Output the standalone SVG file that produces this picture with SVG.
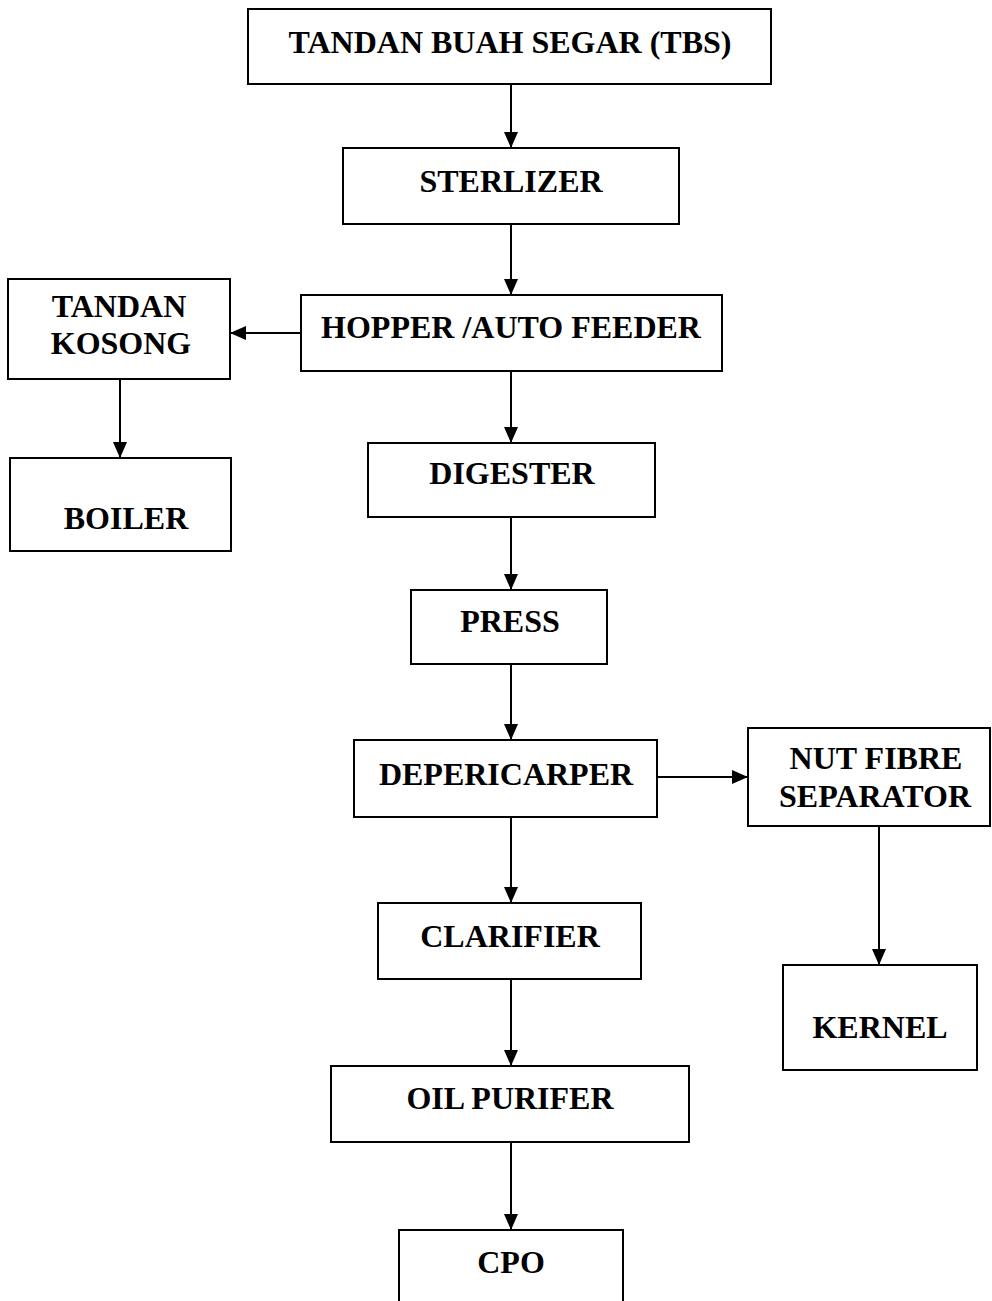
<svg xmlns="http://www.w3.org/2000/svg" width="992" height="1301" viewBox="0 0 992 1301">
<style>
.box{fill:#fff;stroke:#000;stroke-width:2}
.t{font-family:"Liberation Serif","Times New Roman",serif;font-weight:bold;font-size:32px;fill:#000;text-anchor:middle}
.c{stroke:#000;stroke-width:2;fill:none;marker-end:url(#ah)}
</style>
<defs>
<marker id="ah" viewBox="0 0 16 14" refX="16" refY="7" markerWidth="16" markerHeight="14" markerUnits="userSpaceOnUse" orient="auto">
<path d="M0,0 L16,7 L0,14 Z" fill="#000"/>
</marker>
</defs>
<rect width="992" height="1301" fill="#fff"/>
<g id="connectors">
<line class="c" x1="511" y1="84" x2="511" y2="148"/>
<line class="c" x1="511" y1="224" x2="511" y2="295"/>
<line class="c" x1="301" y1="333" x2="230" y2="333"/>
<line class="c" x1="120" y1="379" x2="120" y2="458"/>
<line class="c" x1="511" y1="371" x2="511" y2="443"/>
<line class="c" x1="511" y1="517" x2="511" y2="590"/>
<line class="c" x1="511" y1="664" x2="511" y2="740"/>
<line class="c" x1="657" y1="777" x2="748" y2="777"/>
<line class="c" x1="879" y1="826" x2="879" y2="965"/>
<line class="c" x1="511" y1="817" x2="511" y2="903"/>
<line class="c" x1="511" y1="979" x2="511" y2="1066"/>
<line class="c" x1="511" y1="1142" x2="511" y2="1230"/>
</g>
<g id="tbs"><rect class="box" x="248" y="9" width="523" height="75"/><text class="t" x="510" y="53">TANDAN BUAH SEGAR (TBS)</text></g>
<g id="sterlizer"><rect class="box" x="343" y="148" width="336" height="76"/><text class="t" x="511" y="192">STERLIZER</text></g>
<g id="hopper"><rect class="box" x="301" y="295" width="421" height="76"/><text class="t" x="511" y="338">HOPPER /AUTO FEEDER</text></g>
<g id="tandan-kosong"><rect class="box" x="8" y="279" width="222" height="100"/><text class="t" x="119" y="317">TANDAN</text><text class="t" x="121" y="354">KOSONG</text></g>
<g id="boiler"><rect class="box" x="10" y="458" width="221" height="93"/><text class="t" x="126" y="529">BOILER</text></g>
<g id="digester"><rect class="box" x="368" y="443" width="287" height="74"/><text class="t" x="512" y="484">DIGESTER</text></g>
<g id="press"><rect class="box" x="411" y="590" width="196" height="74"/><text class="t" x="510" y="632">PRESS</text></g>
<g id="depericarper"><rect class="box" x="354" y="740" width="303" height="77"/><text class="t" x="506" y="785">DEPERICARPER</text></g>
<g id="nut-fibre-separator"><rect class="box" x="748" y="728" width="242" height="98"/><text class="t" x="876" y="769">NUT FIBRE</text><text class="t" x="875" y="807">SEPARATOR</text></g>
<g id="kernel"><rect class="box" x="783" y="965" width="194" height="105"/><text class="t" x="880" y="1038">KERNEL</text></g>
<g id="clarifier"><rect class="box" x="378" y="903" width="263" height="76"/><text class="t" x="510" y="947">CLARIFIER</text></g>
<g id="oil-purifer"><rect class="box" x="331" y="1066" width="358" height="76"/><text class="t" x="510" y="1109">OIL PURIFER</text></g>
<g id="cpo"><path class="box" d="M399,1305 L399,1230 L623,1230 L623,1305"/><text class="t" x="511" y="1273">CPO</text></g>
</svg>
